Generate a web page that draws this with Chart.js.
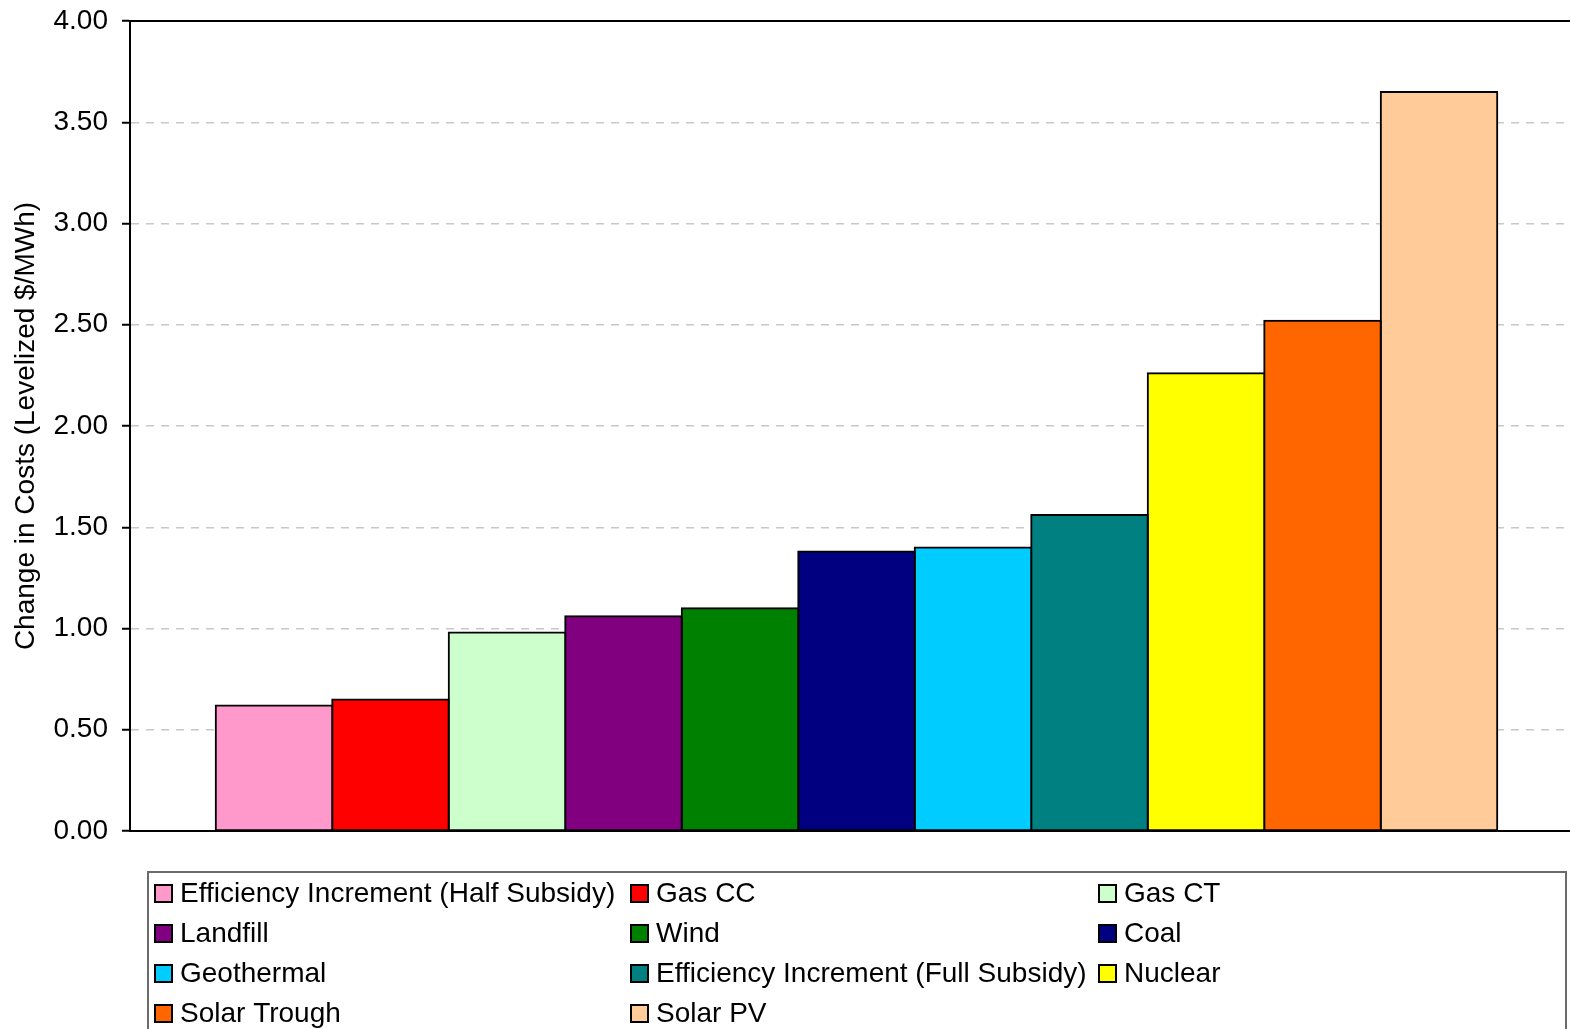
<!DOCTYPE html>
<html>
<head>
<meta charset="utf-8">
<script src="https://cdn.jsdelivr.net/npm/chart.js@4/dist/chart.umd.min.js"></script>
<style>
  html, body { margin: 0; padding: 0; background: #fff; overflow: hidden; }
  #wrap { width: 1570px; height: 1029px; overflow: hidden; position: relative; }
  #box { position: absolute; left: 0; top: 0; width: 1600px; height: 1029px; }
</style>
</head>
<body>
<div id="wrap"><div id="box"><canvas id="costChart"></canvas></div></div>
<script>
const technologies = [
  'Efficiency Increment (Half Subsidy)', 'Gas CC', 'Gas CT', 'Landfill', 'Wind', 'Coal',
  'Geothermal', 'Efficiency Increment (Full Subsidy)', 'Nuclear', 'Solar Trough', 'Solar PV'
];
const costChange = [0.62, 0.65, 0.98, 1.06, 1.10, 1.38, 1.40, 1.56, 2.26, 2.52, 3.65];
const fillColors = [
  '#FF99CC', '#FF0000', '#CCFFCC', '#800080', '#008000', '#000080',
  '#00CCFF', '#008080', '#FFFF00', '#FF6600', '#FFCC99'
];
const yTitle = 'Change in Costs (Levelized $/MWh)';

const FONT = '"Liberation Sans", Arial, sans-serif';

// legend in a boxed 3-column grid under the plot
const boxLegend = {
  id: 'boxLegend',
  afterDraw(chart) {
    const ctx = chart.ctx;
    const cols = [155, 631, 1099];
    const top = 872, rowH = 40, firstRow = 893;
    ctx.save();
    ctx.strokeStyle = '#6b6b6b';
    ctx.lineWidth = 2;
    ctx.strokeRect(148, top, 1566 - 148, 200);
    ctx.font = '28px ' + FONT;
    ctx.textBaseline = 'middle';
    chart.data.datasets.forEach((ds, i) => {
      const x = cols[i % 3];
      const y = firstRow + Math.floor(i / 3) * rowH;
      ctx.fillStyle = ds.backgroundColor;
      ctx.fillRect(x, y - 8, 17, 17);
      ctx.lineWidth = 2;
      ctx.strokeStyle = '#000';
      ctx.strokeRect(x, y - 8, 17, 17);
      ctx.fillStyle = '#000';
      ctx.fillText(ds.label, x + 25, y + 1);
    });
    ctx.restore();
  }
};

// solid frame line along the top of the plot area
const topFrame = {
  id: 'topFrame',
  beforeDatasetsDraw(chart) {
    const { ctx, chartArea } = chart;
    ctx.save();
    ctx.strokeStyle = '#000';
    ctx.lineWidth = 2;
    ctx.beginPath();
    ctx.moveTo(chartArea.left, chartArea.top);
    ctx.lineTo(chartArea.right, chartArea.top);
    ctx.stroke();
    ctx.restore();
  }
};

new Chart(document.getElementById('costChart').getContext('2d'), {
  type: 'bar',
  data: {
    labels: [''],
    datasets: technologies.map((name, i) => ({
      label: name,
      data: [costChange[i]],
      backgroundColor: fillColors[i],
      borderColor: '#000',
      borderWidth: 2,
      borderSkipped: false,
      inflateAmount: 1
    }))
  },
  options: {
    responsive: true,
    maintainAspectRatio: false,
    animation: false,
    layout: { padding: { top: 21, right: 17, bottom: 198, left: 0 } },
    datasets: { bar: { barPercentage: 1, categoryPercentage: 0.882 } },
    scales: {
      x: {
        grid: { display: false, drawTicks: false },
        ticks: { display: false },
        border: { display: true, color: '#000', width: 2 },
        afterFit(scale) { scale.height = 0; }
      },
      y: {
        min: 0,
        max: 4,
        afterFit(scale) {
          scale.width = 130;
          scale.paddingTop = 0;
          scale.paddingBottom = 0;
        },
        ticks: {
          stepSize: 0.5,
          padding: 14,
          color: '#000',
          font: { family: FONT, size: 28 },
          callback: v => v.toFixed(2)
        },
        grid: { color: '#c8c8c8', lineWidth: 1.5, tickLength: 8, tickColor: '#000', tickWidth: 2 },
        border: { display: true, color: '#000', width: 2, dash: [8, 7] },
        title: {
          display: true,
          text: yTitle,
          color: '#000',
          font: { family: FONT, size: 28 },
          padding: { top: 9, bottom: 0 }
        }
      }
    },
    plugins: {
      legend: { display: false },
      tooltip: { enabled: false }
    }
  },
  plugins: [topFrame, boxLegend]
});
</script>
</body>
</html>
